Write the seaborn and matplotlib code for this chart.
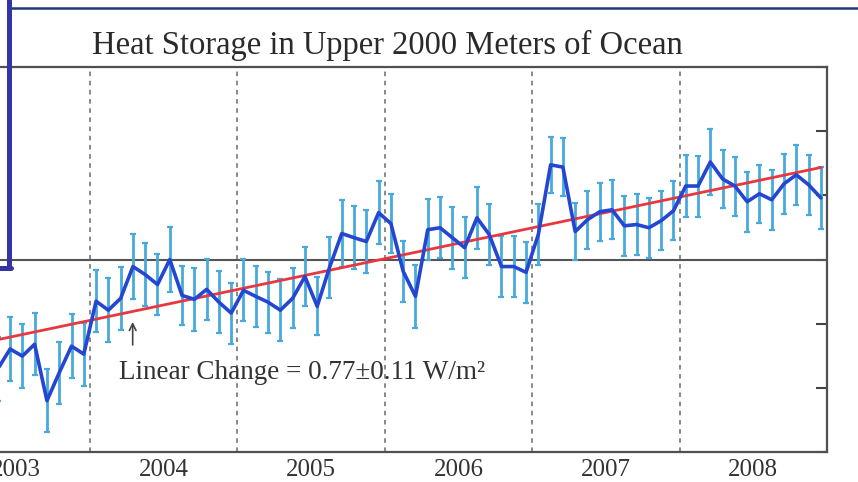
import matplotlib
matplotlib.use("Agg")
import matplotlib.pyplot as plt
from matplotlib.lines import Line2D
import numpy as np
import pandas as pd
import seaborn as sns

# Monthly heat content anomaly of the upper 2000 m (10^22 J); month 0 = Jan 2003
month_index = list(range(4, 72))
heat_anomaly = [
    -3.41, -2.79, -3.01, -2.64, -4.40, -3.53, -2.70, -2.95,
    -1.30, -1.58, -1.21, -0.22, -0.47, -0.78, 0.00, -1.12, -1.24, -0.93, -1.33, -1.67,
    -0.96, -1.15, -1.33, -1.58, -1.21, -0.53, -1.46, -0.25, 0.81, 0.68, 0.56, 1.46,
    1.12, -0.37, -1.15, 0.93, 0.99, 0.68, 0.37, 1.30, 0.78, -0.22, -0.22, -0.40,
    0.78, 2.95, 2.88, 0.87, 1.24, 1.49, 1.55, 1.05, 1.09, 0.99, 1.21, 1.52,
    2.29, 2.29, 3.04, 2.51, 2.29, 1.80, 2.05, 1.86, 2.36, 2.64, 2.33, 1.92,
]
heat_error = [
    1.00, 1.00, 0.99, 0.96, 0.98, 0.96, 1.00, 0.98,
    0.96, 0.99, 0.99, 1.01, 0.99, 0.96, 1.01, 0.93, 0.98, 0.96, 0.97, 0.95,
    0.97, 0.96, 0.95, 0.96, 0.94, 0.93, 0.90, 0.95, 1.05, 0.98, 0.99, 0.98,
    0.93, 0.95, 0.97, 0.96, 0.95, 0.97, 0.96, 0.97, 0.95, 0.94, 0.96, 0.95,
    0.95, 0.88, 0.90, 0.90, 0.90, 0.90, 0.92, 0.93, 0.94, 0.93, 0.92, 0.92,
    0.96, 0.95, 1.04, 0.90, 0.92, 0.93, 0.90, 0.93, 0.93, 0.93, 0.93, 0.96,
]

# Least-squares trend, evaluated at the first and last month
trend_years = [2003.04, 2008.96]
trend_values = [-2.82, 2.87]

year_labels = ["2003", "2004", "2005", "2006", "2007", "2008"]
year_boundaries = [2004, 2005, 2006, 2007, 2008]
y_ticks = [-6, -4, -2, 0, 2, 4, 6]

title_text = "Heat Storage in Upper 2000 Meters of Ocean"
trend_text = "Linear Change = 0.77\u00b10.11 W/m\u00b2"

sns.set_theme(style="white")
plt.rcParams["font.family"] = ["Liberation Serif", "DejaVu Serif"]

df = pd.DataFrame({
    "year": [2003 + (m + 0.5) / 12 for m in month_index],
    "anomaly": heat_anomaly,
    "err": heat_error,
})
trend_df = pd.DataFrame({"year": trend_years, "anomaly": trend_values})

fig = plt.figure(figsize=(8.58, 4.82), dpi=100)
fig.patch.set_facecolor("white")
ax = fig.add_axes([-0.067, 0.0622, 1.0309, 0.7988])
ax.set_facecolor("white")

# reference lines
ax.axhline(0, color="#555555", lw=1.5, zorder=1)
for b in year_boundaries:
    ax.axvline(b, color="#6a6a6a", lw=1.1, ls=(0, (3, 3)), zorder=1)

# monthly uncertainty bars
ax.errorbar(df["year"], df["anomaly"], yerr=df["err"], fmt="none",
            ecolor="#48a9dc", elinewidth=2.0, capsize=2.3, capthick=1.6, zorder=2)

sns.lineplot(data=trend_df, x="year", y="anomaly", color="#e8383f", lw=2.0,
             ax=ax, zorder=3)
sns.lineplot(data=df, x="year", y="anomaly", color="#2446d0", lw=2.6,
             ax=ax, zorder=4)

ax.set_xlim(2003, 2009)
ax.set_ylim(-6, 6)
ax.set_xticks([int(y) + 0.5 for y in year_labels])
ax.set_xticklabels(year_labels)
ax.set_yticks(y_ticks)
ax.set_yticklabels([])
ax.set_xlabel("")
ax.set_ylabel("")
ax.tick_params(axis="x", length=0, pad=5, labelsize=18, labelcolor="#333333")
ax.tick_params(axis="y", direction="in", length=8, width=1.5, color="#444444",
               left=True, right=True)
for side in ["top", "bottom", "left", "right"]:
    ax.spines[side].set_color("#505050")
    ax.spines[side].set_linewidth(1.6)

# annotation of the trend
ax.annotate("", xy=(2004.29, -1.86), xytext=(2004.29, -2.75),
            arrowprops=dict(arrowstyle="->", color="#444444", lw=1.2))
ax.text(2004.2, -3.52, trend_text, fontsize=19.5, ha="left", va="center",
        color="#333333")

fig.text(0.452, 0.905, title_text, fontsize=23.5, ha="center", va="center",
         color="#2a2a2a")

# slide frame lines
fig.add_artist(Line2D([12 / 858, 1.0], [1 - 8 / 482, 1 - 8 / 482],
                      color="#1f3a78", lw=1.8))
fig.add_artist(Line2D([8.5 / 858, 8.5 / 858], [1.0, 1 - 268 / 482],
                      color="#3434a4", lw=3.6))
fig.add_artist(Line2D([0, 11 / 858], [1 - 268 / 482, 1 - 268 / 482],
                      color="#3434a4", lw=3.6))

fig.savefig("out.png", dpi=100, facecolor="white")
